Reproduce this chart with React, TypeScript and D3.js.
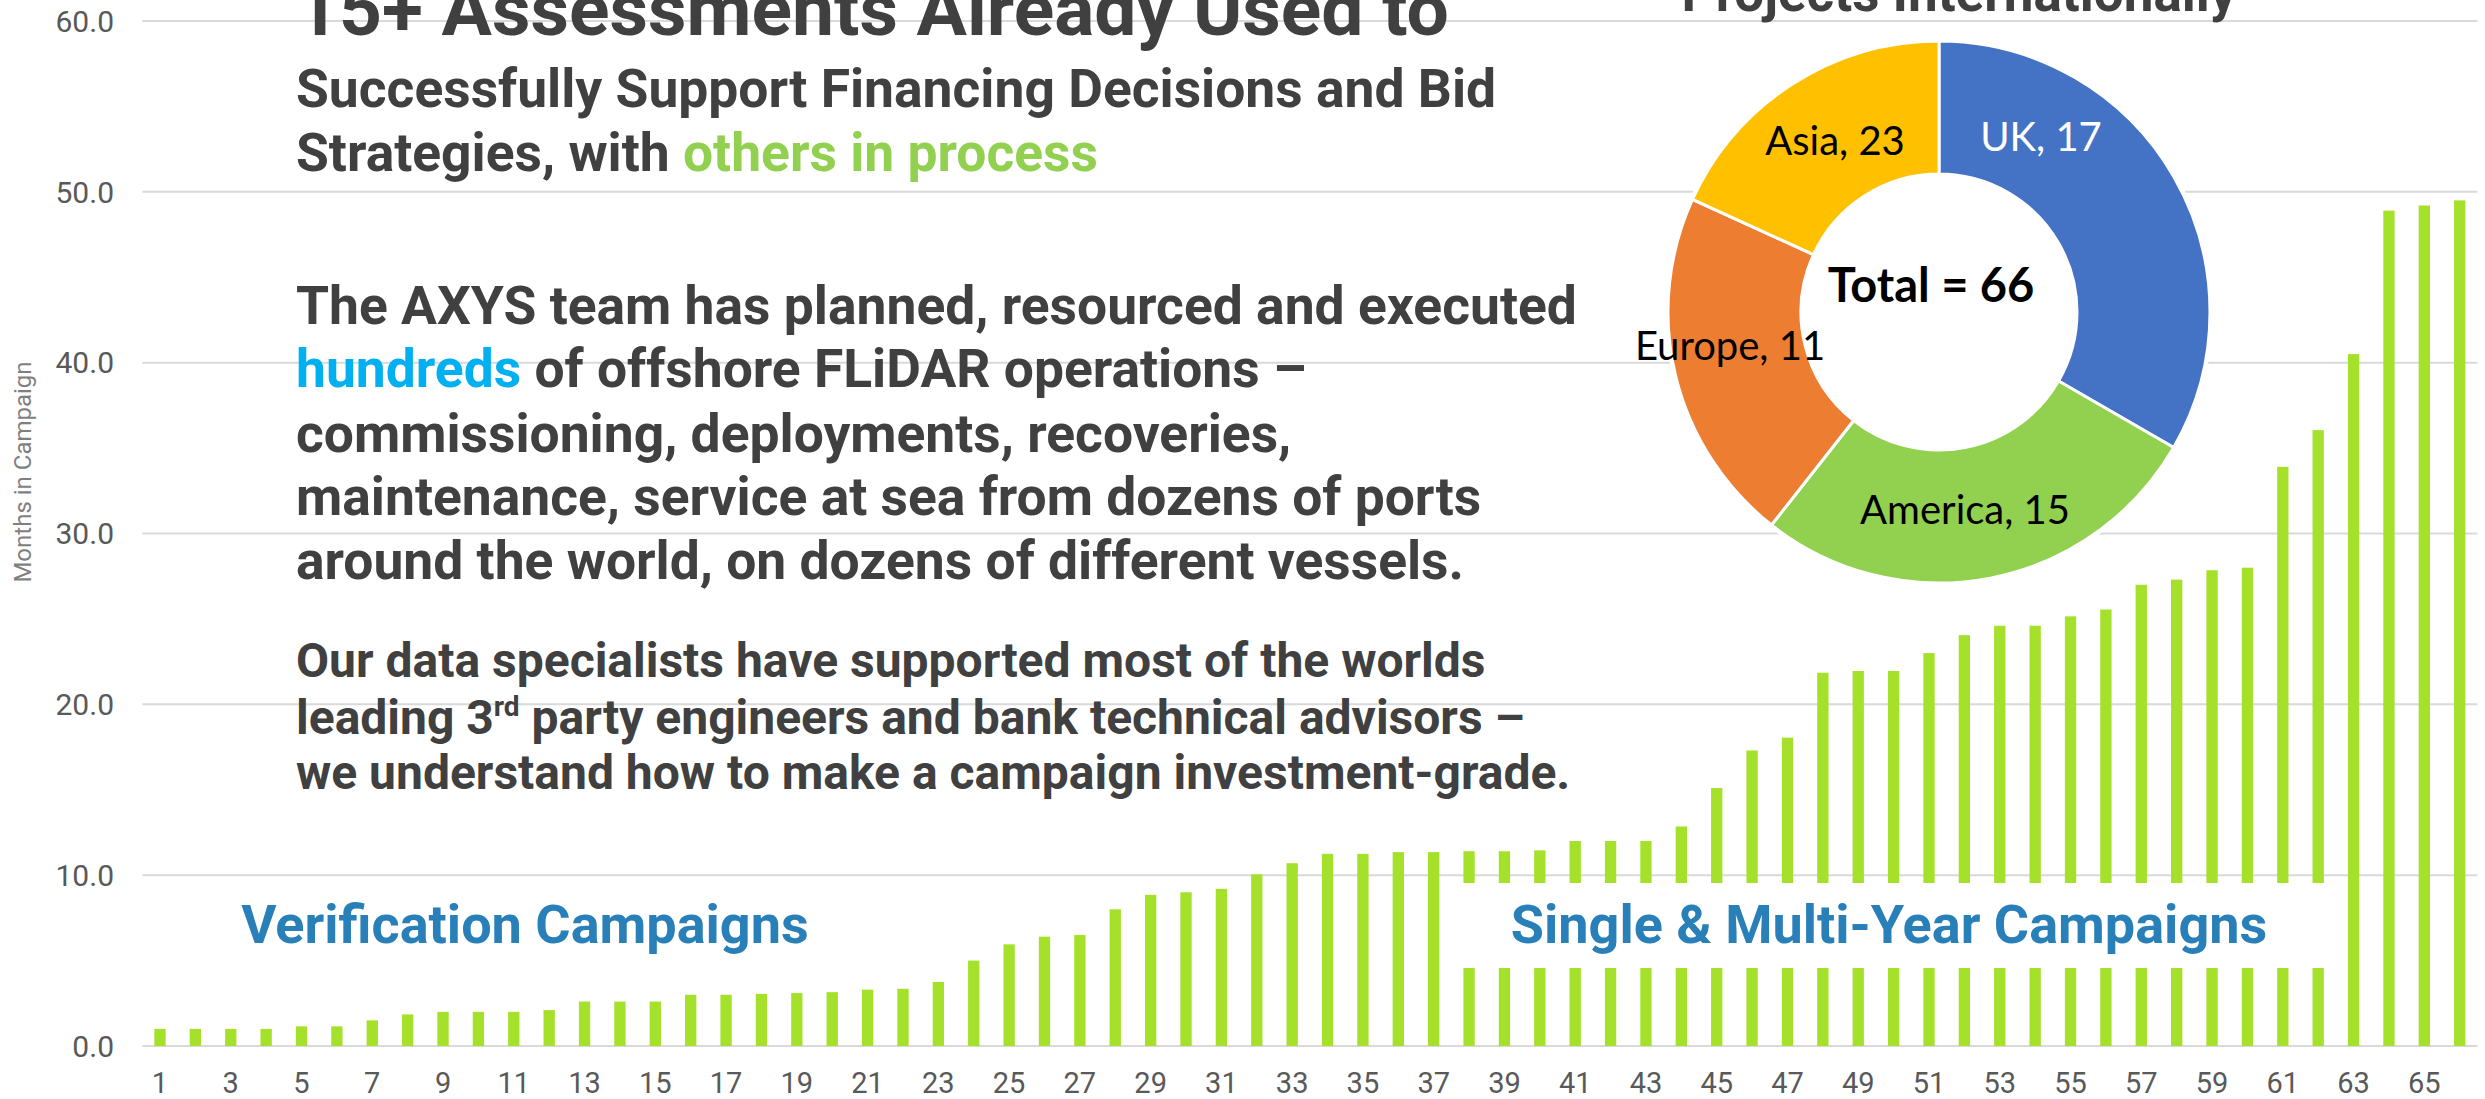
import React, { useEffect } from "react";
import * as d3 from "d3";

const categories = [
  1, 2, 3, 4, 5, 6, 7, 8, 9, 10, 11, 12, 13, 14, 15, 16, 17, 18, 19, 20, 21, 22,
  23, 24, 25, 26, 27, 28, 29, 30, 31, 32, 33, 34, 35, 36, 37, 38, 39, 40, 41, 42,
  43, 44, 45, 46, 47, 48, 49, 50, 51, 52, 53, 54, 55, 56, 57, 58, 59, 60, 61, 62,
  63, 64, 65, 66,
];
const monthsInCampaign = [
  1.0, 1.0, 1.0, 1.0, 1.15, 1.15, 1.5, 1.85, 2.0, 2.0, 2.0, 2.1, 2.6, 2.6, 2.6, 3.0,
  3.0, 3.05, 3.1, 3.15, 3.3, 3.35, 3.75, 5.0, 5.95, 6.4, 6.5, 8.0, 8.85, 9.0, 9.2,
  10.05, 10.7, 11.25, 11.25, 11.35, 11.35, 11.4, 11.4, 11.45, 12.0, 12.0, 12.0,
  12.85, 15.1, 17.3, 18.05, 21.85, 21.95, 21.95, 23.0, 24.05, 24.6, 24.6, 25.15,
  25.55, 27.0, 27.3, 27.85, 28.0, 33.9, 36.05, 40.5, 48.9, 49.2, 49.5,
];
const yTicks = [0, 10, 20, 30, 40, 50, 60];
const xTickLabels = categories.filter((c) => c % 2 === 1);

const regions = ["UK", "America", "Europe", "Asia"];
const regionLabelValues = [17, 15, 11, 23];
const regionArcShares = [22, 18, 14, 12];
const regionColors = ["#4472C4", "#92D050", "#ED7D31", "#FFC000"];
const regionLabelColors = ["#ffffff", "#000000", "#000000", "#000000"];

const W = 2485;
const H = 1099;
const plot = { left: 142.3, right: 2477.4, top: 21, bottom: 1046 };

const FONT = "Roboto, 'Liberation Sans', Arial, sans-serif";
const CAL = "Lato, 'Open Sans', sans-serif";
const DARK = "#404040";
const BAR = "#A5E12A";
const CAMP = "#2980B9";

export default function App() {
  useEffect(() => {
    document.body.style.margin = "0";
    document.body.style.overflow = "hidden";
  }, []);

  const x = d3
    .scaleBand<number>()
    .domain(categories)
    .range([plot.left, plot.right])
    .paddingInner(0.68)
    .paddingOuter(0.34);
  const y = d3.scaleLinear().domain([0, 60]).range([plot.bottom, plot.top]);

  const pie = d3
    .pie<number>()
    .sort(null)
    .value((d) => d);
  const arcs = pie(regionArcShares);
  const donut = { cx: 1939, cy: 312, r0: 138, r1: 271 };
  const arcGen = d3
    .arc<d3.PieArcDatum<number>>()
    .innerRadius(donut.r0)
    .outerRadius(donut.r1);
  const labelPos = [
    { x: 2041, y: 151 },
    { x: 1965, y: 524 },
    { x: 1730, y: 360 },
    { x: 1835, y: 155 },
  ];

  const singleBox = { x0: 1448, x1: 2333, y0: 883, y1: 968 };

  const bigLineX = 296;
  const bodySize = 53.4;
  const paraSize = 48;

  return (
    <svg
      width={W}
      height={H}
      viewBox={`0 0 ${W} ${H}`}
      style={{ position: "absolute", left: 0, top: 0, background: "#fff" }}
    >
      <rect x={0} y={0} width={W} height={H} fill="#fff" />
      {/* gridlines */}
      {yTicks.map((t) => (
        <line
          key={t}
          x1={plot.left}
          x2={plot.right}
          y1={y(t)}
          y2={y(t)}
          stroke="#D9D9D9"
          strokeWidth={2}
        />
      ))}
      {/* y tick labels */}
      {yTicks.map((t) => (
        <text
          key={"yl" + t}
          x={114}
          y={y(t)}
          dy="0.36em"
          textAnchor="end"
          fontFamily={FONT}
          fontSize={30}
          fill="#595959"
        >
          {d3.format(".1f")(t)}
        </text>
      ))}
      {/* y axis title */}
      <text
        transform={`translate(31, 472) rotate(-90)`}
        textAnchor="middle"
        fontFamily={FONT}
        fontSize={24}
        fill="#7F7F7F"
      >
        Months in Campaign
      </text>
      {/* x tick labels */}
      {xTickLabels.map((c) => (
        <text
          key={"xl" + c}
          x={(x(c) as number) + x.bandwidth() / 2}
          y={1093}
          textAnchor="middle"
          fontFamily={FONT}
          fontSize={29}
          fill="#595959"
        >
          {c}
        </text>
      ))}
      {/* bars */}
      {categories.map((c, i) => (
        <rect
          key={"b" + c}
          x={x(c)}
          y={y(monthsInCampaign[i])}
          width={x.bandwidth()}
          height={y(0) - y(monthsInCampaign[i])}
          fill={BAR}
        />
      ))}
      {/* campaign labels */}
      <rect
        x={singleBox.x0}
        y={singleBox.y0}
        width={singleBox.x1 - singleBox.x0}
        height={singleBox.y1 - singleBox.y0}
        fill="#fff"
      />
      <text
        x={525}
        y={943}
        textAnchor="middle"
        fontFamily={FONT}
        fontWeight={700}
        fontSize={54}
        fill={CAMP}
      >
        Verification Campaigns
      </text>
      <text
        x={1889}
        y={943}
        textAnchor="middle"
        fontFamily={FONT}
        fontWeight={700}
        fontSize={54}
        fill={CAMP}
      >
        Single &amp; Multi-Year Campaigns
      </text>

      {/* headline text */}
      <g fontFamily={FONT} fontWeight={700} fill={DARK}>
        <text x={bigLineX} y={35} fontSize={75}>
          15+ Assessments Already Used to
        </text>
        <text x={bigLineX} y={107} fontSize={bodySize}>
          Successfully Support Financing Decisions and Bid
        </text>
        <text x={bigLineX} y={171} fontSize={bodySize}>
          Strategies, with <tspan fill="#92D050">others in process</tspan>
        </text>
        <text x={bigLineX} y={324} fontSize={bodySize}>
          The AXYS team has planned, resourced and executed
        </text>
        <text x={bigLineX} y={387} fontSize={bodySize}>
          <tspan fill="#00B0F0">hundreds</tspan> of offshore FLiDAR operations –
        </text>
        <text x={bigLineX} y={452} fontSize={bodySize}>
          commissioning, deployments, recoveries,
        </text>
        <text x={bigLineX} y={515} fontSize={bodySize}>
          maintenance, service at sea from dozens of ports
        </text>
        <text x={bigLineX} y={579} fontSize={bodySize}>
          around the world, on dozens of different vessels.
        </text>
        <text x={bigLineX} y={677} fontSize={paraSize}>
          Our data specialists have supported most of the worlds
        </text>
        <text x={bigLineX} y={734} fontSize={paraSize}>
          leading 3
          <tspan fontSize={28} dy={-18}>
            rd
          </tspan>
          <tspan dy={18}> party engineers and bank technical advisors –</tspan>
        </text>
        <text x={bigLineX} y={789} fontSize={paraSize}>
          we understand how to make a campaign investment-grade.
        </text>
        <text x={1959} y={11} fontSize={53} textAnchor="middle">
          Projects Internationally
        </text>
      </g>

      {/* donut */}
      <g transform={`translate(${donut.cx}, ${donut.cy})`}>
        <circle r={donut.r1 + 3} fill="#fff" />
        {arcs.map((a, i) => (
          <path
            key={"arc" + i}
            d={arcGen(a) as string}
            fill={regionColors[i]}
            stroke="#fff"
            strokeWidth={3}
          />
        ))}
      </g>
      {regions.map((r, i) => (
        <text
          key={"lab" + r}
          x={labelPos[i].x}
          y={labelPos[i].y}
          textAnchor="middle"
          fontFamily={CAL}
          fontSize={40}
          fill={regionLabelColors[i]}
        >
          {`${r}, ${regionLabelValues[i]}`}
        </text>
      ))}
      <text
        x={1931}
        y={302}
        textAnchor="middle"
        fontFamily={CAL}
        fontWeight={700}
        fontSize={47}
        fill="#000"
      >
        {`Total = ${d3.sum(regionLabelValues)}`}
      </text>
    </svg>
  );
}
